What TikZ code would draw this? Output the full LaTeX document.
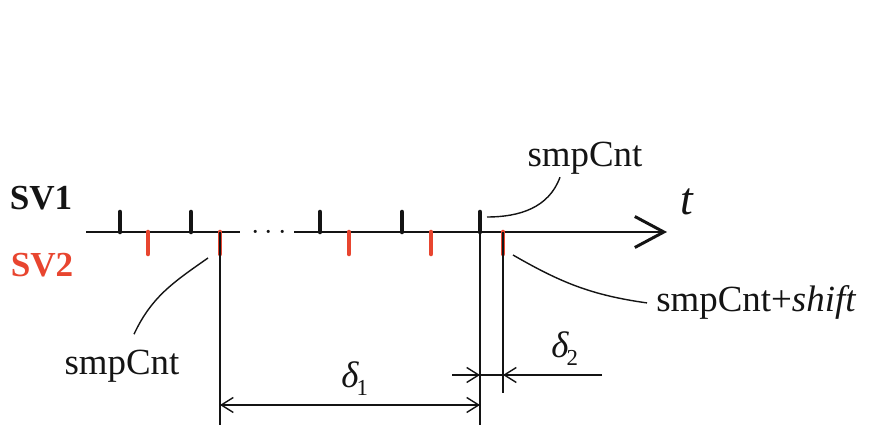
\documentclass[tikz,border=0pt]{standalone}
\usepackage{fontspec}
\setmainfont{Liberation Serif}
\usetikzlibrary{arrows.meta}
\definecolor{Ink}{HTML}{141414}
\definecolor{SVRed}{HTML}{E8452F}
\newcommand{\deltasub}[1]{{\itshape δ}\kern-1pt\raisebox{-4pt}{\fontsize{13}{15}\selectfont #1}}
\tikzset{axisline/.style={draw=Ink,line width=1.7pt},sv1tick/.style={draw=Ink,line width=2.6pt,line cap=round},sv2tick/.style={draw=SVRed,line width=2.6pt,line cap=round},guideline/.style={draw=Ink,line width=0.8pt},leader/.style={draw=Ink,line width=0.8pt},dimline/.style={draw=Ink,line width=0.8pt},lbl/.style={inner sep=0pt,anchor=base,font=\fontsize{21}{25}\selectfont},svlbl/.style={inner sep=0pt,anchor=base,font=\fontsize{20}{24}\selectfont\bfseries},dimlbl/.style={inner sep=0pt,anchor=base west,font=\fontsize{21}{25}\selectfont}}

\begin{document}
\begin{tikzpicture}[x=0.02cm,y=0.02cm,text=Ink,>={Straight Barb[length=2.4mm,width=3mm]}]
\useasboundingbox (0,0) rectangle (870,426);
\node[svlbl] (sv1) at (41,216) {SV1};
\node[svlbl,text=SVRed] (sv2) at (42,149) {SV2};
% time axis
\coordinate (ax0) at (86,194);\coordinate (ax1) at (240,194);\coordinate (ax2) at (294,194);\coordinate (ax3) at (667,194);
\draw[axisline] (ax0)--(ax1);\draw[axisline,-{Straight Barb[length=5.8mm,width=6.2mm]}] (ax2)--(ax3);
\node[inner sep=0pt,anchor=base,font=\fontsize{18}{20}\selectfont] (dots) at (269,186) {$\cdots$};
\node[lbl,font=\fontsize{26}{30}\selectfont\itshape] (tlbl) at (687,211) {t};
% sample ticks
\foreach \x [count=\i] in {120,191,320,402,480} {\coordinate (b\i) at (\x,194);\draw[sv1tick] (b\i)--++(0,20);}
\foreach \x [count=\i] in {148,220,349,431,503} {\coordinate (r\i) at (\x,194);\draw[sv2tick] (r\i)--++(0,-22);}
% extension lines
\coordinate (e1) at (220,1);\coordinate (e2) at (480,1);\coordinate (e3) at (503,33);
\draw[guideline] (r2)--(e1);\draw[guideline] (b5)--(e2);\draw[guideline] (r5)--(e3);
% labels and leaders
\node[lbl] (cntTop) at (585,259) {smpCnt};
\node[lbl] (cntBot) at (122,51) {smpCnt};
\node[lbl,anchor=base west] (cntSh) at (656,114) {smpCnt+\textit{shift}};
\coordinate (lA) at (487,209);\coordinate (lB) at (208,168);\coordinate (lC) at (513,171);
\draw[leader] (lA) to[out=0,in=250] ([xshift=-0.5cm,yshift=-0.04cm]cntTop.south);
\draw[leader] (lB) to[out=215,in=65] ([xshift=0.24cm,yshift=0.32cm]cntBot.north);
\draw[leader] (lC) to[out=-30,in=172] ([xshift=-0.18cm]cntSh.west);
% dimensions
\coordinate (d1a) at (220,21);\coordinate (d1b) at (480,21);
\draw[dimline,<->] (d1a)--(d1b);
\node[dimlbl] (del1) at (341,38) {\deltasub{1}};
\coordinate (d2a) at (452,51);\coordinate (d2m) at (480,51);\coordinate (d2n) at (503,51);\coordinate (d2b) at (602,51);
\draw[dimline,->] (d2a)--(d2m);\draw[dimline] (d2m)--(d2n);\draw[dimline,->] (d2b)--(d2n);
\node[dimlbl] (del2) at (551,68) {\deltasub{2}};
\end{tikzpicture}
\end{document}
